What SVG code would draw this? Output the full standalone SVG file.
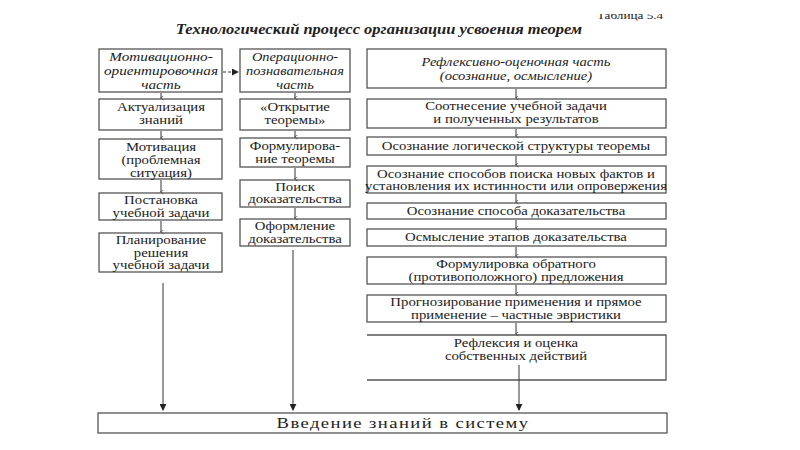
<svg xmlns="http://www.w3.org/2000/svg" width="800" height="450" viewBox="0 0 800 450">
<style>
.b{fill:#fff;stroke:#555;stroke-width:1.3}
.t{font-family:"Liberation Serif","DejaVu Serif","Noto Serif",serif;font-size:12px;fill:#222;text-anchor:middle}
.i{font-style:italic}
.c{stroke:#333;stroke-width:1;fill:none}
</style>
<defs>
<marker id="s" viewBox="0 0 6 6" refX="3" refY="5" markerWidth="5" markerHeight="5" orient="auto-start-reverse" markerUnits="userSpaceOnUse"><path d="M0.5,2 L3,5.5 L5.5,2" fill="none" stroke="#333" stroke-width="0.8"/></marker>
<marker id="f" viewBox="0 0 8 8" refX="7" refY="4" markerWidth="7" markerHeight="7" orient="auto" markerUnits="userSpaceOnUse"><path d="M0,0 L8,4 L0,8 Z" fill="#222"/></marker>
<clipPath id="cp"><rect x="0" y="14" width="800" height="20"/></clipPath>
</defs>
<rect width="800" height="450" fill="#fff"/>
<g id="title">
<g clip-path="url(#cp)"><g transform="translate(630 0) scale(1.2 1)"><text x="0" y="19" class="t" style="font-size:11px">Таблица 5.4</text></g></g>
<g transform="translate(379 0) scale(1.1 1)"><text x="0" y="34" class="t" style="font-size:15px;font-weight:bold;font-style:italic">Технологический процесс организации усвоения теорем</text></g>
</g>
<g id="n1"><rect class="b" x="99" y="49" width="123" height="43"/><g transform="translate(161 0) scale(1.27 1)"><text class="t i" x="0" y="61">Мотивационно-</text><text class="t i" x="0" y="75">ориентировочная</text><text class="t i" x="0" y="89">часть</text></g></g>
<g id="n2"><rect class="b" x="240" y="49" width="110" height="43"/><g transform="translate(295 0) scale(1.2 1)"><text class="t i" x="0" y="61">Операционно-</text><text class="t i" x="0" y="75">познавательная</text><text class="t i" x="0" y="89">часть</text></g></g>
<g id="n3"><rect class="b" x="367" y="49" width="299" height="39"/><g transform="translate(516 0) scale(1.27 1)"><text class="t i" x="0" y="66" style="font-size:11.5px">Рефлексивно-оценочная часть</text><text class="t i" x="0" y="80" style="font-size:11.5px">(осознание, осмысление)</text></g></g>
<g id="l1"><rect class="b" x="99" y="99" width="123" height="31"/><g transform="translate(161 0) scale(1.23 1)"><text class="t" x="0" y="111">Актуализация</text><text class="t" x="0" y="124">знаний</text></g></g>
<g id="l2"><rect class="b" x="99" y="139" width="123" height="40"/><g transform="translate(161 0) scale(1.23 1)"><text class="t" x="0" y="151">Мотивация</text><text class="t" x="0" y="164">(проблемная</text><text class="t" x="0" y="177">ситуация)</text></g></g>
<g id="l3"><rect class="b" x="99" y="193" width="123" height="27"/><g transform="translate(161 0) scale(1.23 1)"><text class="t" x="0" y="204.5">Постановка</text><text class="t" x="0" y="217">учебной задачи</text></g></g>
<g id="l4"><rect class="b" x="99" y="233" width="123" height="39"/><g transform="translate(161 0) scale(1.23 1)"><text class="t" x="0" y="244.5">Планирование</text><text class="t" x="0" y="257">решения</text><text class="t" x="0" y="269.5">учебной задачи</text></g></g>
<g id="m1"><rect class="b" x="240" y="99" width="110" height="31"/><g transform="translate(295 0) scale(1.23 1)"><text class="t" x="0" y="111">«Открытие</text><text class="t" x="0" y="124">теоремы»</text></g></g>
<g id="m2"><rect class="b" x="240" y="138" width="110" height="29"/><g transform="translate(295 0) scale(1.23 1)"><text class="t" x="0" y="150.5">Формулирова-</text><text class="t" x="0" y="163">ние теоремы</text></g></g>
<g id="m3"><rect class="b" x="240" y="180" width="110" height="27"/><g transform="translate(295 0) scale(1.23 1)"><text class="t" x="0" y="191">Поиск</text><text class="t" x="0" y="203.5">доказательства</text></g></g>
<g id="m4"><rect class="b" x="240" y="219" width="110" height="27"/><g transform="translate(295 0) scale(1.23 1)"><text class="t" x="0" y="230.5">Оформление</text><text class="t" x="0" y="243">доказательства</text></g></g>
<g id="r1"><rect class="b" x="367" y="99" width="299" height="29"/><g transform="translate(516 0) scale(1.23 1)"><text class="t" x="0" y="110">Соотнесение учебной задачи</text><text class="t" x="0" y="123">и полученных результатов</text></g></g>
<g id="r2"><rect class="b" x="367" y="137" width="299" height="18"/><g transform="translate(516 0) scale(1.23 1)"><text class="t" x="0" y="150">Осознание логической структуры теоремы</text></g></g>
<g id="r3"><rect class="b" x="367" y="166" width="299" height="27"/><g transform="translate(516 0) scale(1.23 1)"><text class="t" x="0" y="178">Осознание способов поиска новых фактов и</text><text class="t" x="0" y="190.5">установления их истинности или опровержения</text></g></g>
<g id="r4"><rect class="b" x="367" y="203" width="299" height="16"/><g transform="translate(516 0) scale(1.23 1)"><text class="t" x="0" y="215">Осознание способа доказательства</text></g></g>
<g id="r5"><rect class="b" x="367" y="229" width="299" height="17"/><g transform="translate(516 0) scale(1.23 1)"><text class="t" x="0" y="241">Осмысление этапов доказательства</text></g></g>
<g id="r6"><rect class="b" x="367" y="257" width="299" height="27"/><g transform="translate(516 0) scale(1.23 1)"><text class="t" x="0" y="268.5">Формулировка обратного</text><text class="t" x="0" y="281">(противоположного) предложения</text></g></g>
<g id="r7"><rect class="b" x="367" y="295" width="299" height="27"/><g transform="translate(516 0) scale(1.23 1)"><text class="t" x="0" y="306.5">Прогнозирование применения и прямое</text><text class="t" x="0" y="319">применение – частные эвристики</text></g></g>
<g id="r8"><path class="b" d="M367,335 H666 V380 H367" fill="none"/><g transform="translate(516 0) scale(1.23 1)"><text class="t" x="0" y="347">Рефлексия и оценка</text><text class="t" x="0" y="360">собственных действий</text></g></g>
<g id="bottom"><rect class="b" x="98" y="413" width="569" height="20"/><g transform="translate(403 0) scale(1.2 1)"><text class="t" x="0" y="428" style="font-size:15.5px;letter-spacing:1.2px">Введение знаний в систему</text></g></g>
<g id="connectors">
<path class="c" d="M223,72 H238" stroke-dasharray="3,2" marker-end="url(#f)"/>
<path class="c" d="M161,93 V98" marker-end="url(#s)"/>
<path class="c" d="M161,131 V138" marker-end="url(#s)"/>
<path class="c" d="M161,180 V192" marker-end="url(#s)"/>
<path class="c" d="M161,221 V232" marker-end="url(#s)"/>
<path class="c" d="M295,93 V98" marker-end="url(#s)"/>
<path class="c" d="M295,131 V137" marker-end="url(#s)"/>
<path class="c" d="M295,168 V179" marker-end="url(#s)"/>
<path class="c" d="M295,208 V218" marker-end="url(#s)"/>
<path class="c" d="M516,89 V98" marker-end="url(#s)"/>
<path class="c" d="M516,129 V136" marker-end="url(#s)"/>
<path class="c" d="M516,156 V165" marker-end="url(#s)"/>
<path class="c" d="M516,194 V202" marker-end="url(#s)"/>
<path class="c" d="M516,220 V228" marker-end="url(#s)"/>
<path class="c" d="M516,247 V256" marker-end="url(#s)"/>
<path class="c" d="M516,285 V294" marker-end="url(#s)"/>
<path class="c" d="M516,323 V334" marker-end="url(#s)"/>
<path class="c" d="M163,283 V410" marker-end="url(#f)"/>
<path class="c" d="M293,250 V410" marker-end="url(#f)"/>
<path class="c" d="M519,365 V410" marker-end="url(#f)"/>
</g>
</svg>
